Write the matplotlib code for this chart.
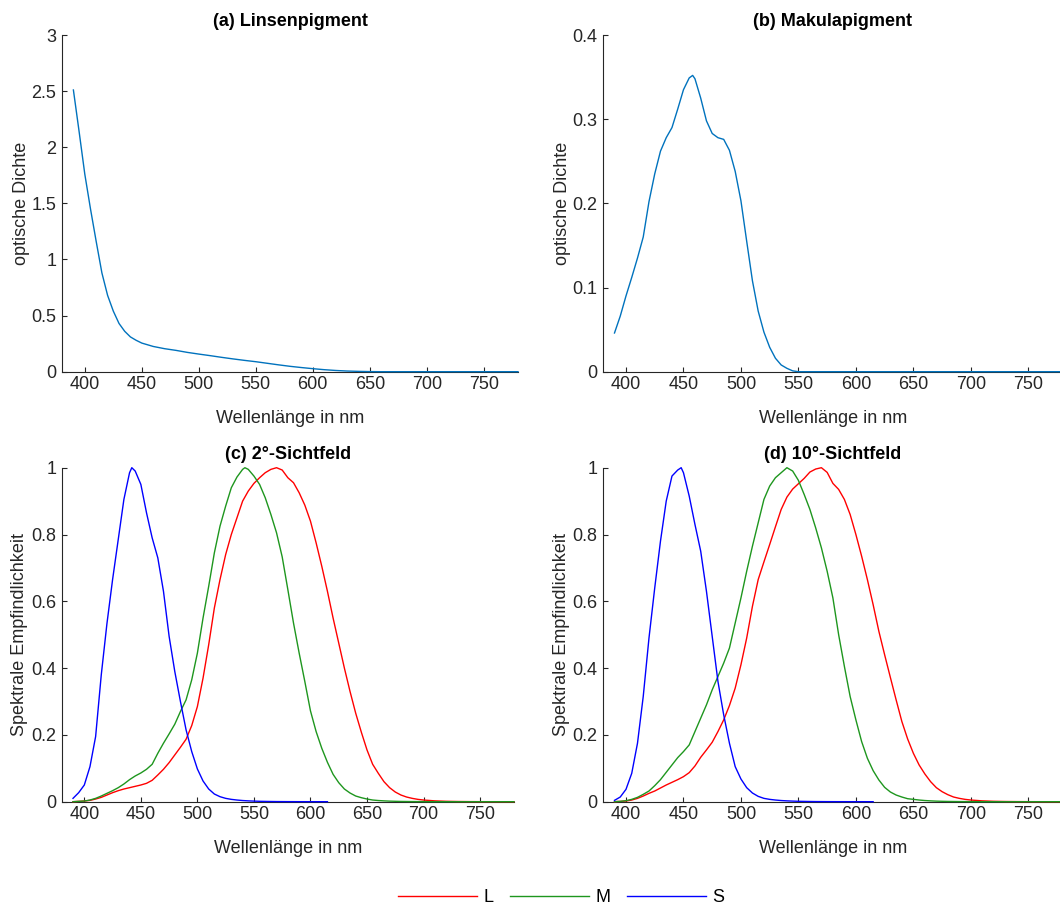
import matplotlib
matplotlib.use("Agg")
import matplotlib.pyplot as plt

plt.rcParams['font.family'] = ['Liberation Sans', 'DejaVu Sans']

# ---------------- data ----------------
# (a) lens pigment optical density
lens_wl = [390, 395, 400, 405, 410, 415, 420, 425, 430, 435, 440, 445, 450,
           460, 470, 480, 490, 500, 510, 520, 530, 540, 550, 560, 570, 580,
           590, 600, 610, 620, 630, 640, 650, 660, 670, 680, 690, 700, 710,
           720, 730, 740, 750, 760, 770, 780]
lens_od = [2.51, 2.14, 1.76, 1.45, 1.16, 0.88, 0.68, 0.54, 0.43, 0.36, 0.31, 0.28, 0.255,
           0.225, 0.205, 0.19, 0.172, 0.157, 0.143, 0.128, 0.114, 0.101, 0.089, 0.075, 0.061, 0.048,
           0.037, 0.027, 0.018, 0.011, 0.006, 0.003, 0.001, 0, 0, 0, 0, 0, 0,
           0, 0, 0, 0, 0, 0, 0]

# (b) macular pigment optical density
mac_wl = [390, 395, 400, 405, 410, 415, 420, 425, 430, 435, 440, 445, 450, 455, 458,
          460, 465, 470, 475, 480, 485, 490, 495, 500, 505, 510, 515, 520, 525,
          530, 535, 540, 545, 550, 560, 570, 580, 590, 600, 610, 620, 630, 640,
          650, 660, 670, 680, 690, 700, 710, 720, 730, 740, 750, 760, 770, 780]
mac_od = [0.046, 0.066, 0.09, 0.112, 0.135, 0.16, 0.202, 0.235, 0.262, 0.278, 0.29, 0.312, 0.335, 0.349, 0.352,
          0.348, 0.325, 0.298, 0.283, 0.278, 0.276, 0.263, 0.238, 0.203, 0.155, 0.108, 0.072, 0.047, 0.029,
          0.016, 0.008, 0.004, 0.001, 0, 0, 0, 0, 0, 0, 0, 0, 0, 0,
          0, 0, 0, 0, 0, 0, 0, 0, 0, 0, 0, 0, 0, 0]

# (c) 2 degree field
L2_wl = [390, 395, 400, 405, 410, 415, 420, 425, 430, 435,
         440, 445, 450, 455, 460, 465, 470, 475, 480, 485,
         490, 495, 500, 505, 510, 515, 520, 525, 530, 535,
         540, 545, 550, 555, 560, 565, 570, 575, 580, 585,
         590, 595, 600, 605, 610, 615, 620, 625, 630, 635,
         640, 645, 650, 655, 660, 665, 670, 675, 680, 685,
         690, 695, 700, 710, 720, 730, 740, 750, 760, 770, 780]
L2 = [0.000, 0.001, 0.002, 0.004, 0.008, 0.013, 0.020, 0.027, 0.033, 0.038,
      0.042, 0.046, 0.050, 0.055, 0.064, 0.080, 0.097, 0.117, 0.140, 0.163,
      0.187, 0.228, 0.285, 0.370, 0.470, 0.580, 0.665, 0.740, 0.800, 0.850,
      0.900, 0.930, 0.953, 0.970, 0.985, 0.995, 1.000, 0.993, 0.970, 0.955,
      0.925, 0.888, 0.840, 0.775, 0.705, 0.630, 0.550, 0.475, 0.400, 0.330,
      0.265, 0.208, 0.155, 0.112, 0.085, 0.060, 0.042, 0.029, 0.020, 0.014,
      0.010, 0.007, 0.005, 0.0025, 0.0012, 0.0006, 0.0003, 0.00015, 0.00008, 0.00004, 0.00002]
M2_wl = [390, 395, 400, 405, 410, 415, 420, 425, 430, 435,
         440, 445, 450, 455, 460, 465, 470, 475, 480, 485,
         490, 495, 500, 505, 510, 515, 520, 525, 530, 535,
         540, 542, 545, 550, 555, 560, 565, 570, 575, 580, 585,
         590, 595, 600, 605, 610, 615, 620, 625, 630, 635,
         640, 645, 650, 655, 660, 665, 670, 675, 680, 685,
         690, 695, 700, 710, 720, 730, 740, 750, 760, 770, 780]
M2 = [0.000, 0.001, 0.002, 0.005, 0.010, 0.017, 0.025, 0.033, 0.042, 0.053,
      0.066, 0.077, 0.086, 0.097, 0.112, 0.145, 0.175, 0.203, 0.232, 0.270,
      0.305, 0.365, 0.445, 0.550, 0.645, 0.745, 0.825, 0.885, 0.940, 0.972,
      0.995, 1.000, 0.995, 0.975, 0.950, 0.910, 0.860, 0.805, 0.733, 0.635, 0.535,
      0.445, 0.360, 0.272, 0.210, 0.160, 0.118, 0.082, 0.057, 0.038, 0.026,
      0.017, 0.012, 0.008, 0.005, 0.0035, 0.0025, 0.0017, 0.0012, 0.0008, 0.0006,
      0.0004, 0.0003, 0.0002, 0.0001, 0.00005, 0.00003, 0.00002, 0.00001, 0.0, 0.0, 0.0]
S2_wl = [390, 395, 400, 405, 410, 415, 420, 425, 430, 435,
         440, 442, 445, 450, 455, 460, 465, 470, 475, 480, 485,
         490, 495, 500, 505, 510, 515, 520, 525, 530, 535,
         540, 545, 550, 555, 560, 565, 570, 575, 580, 585,
         590, 595, 600, 605, 610, 615]
S2 = [0.010, 0.027, 0.050, 0.105, 0.195, 0.380, 0.533, 0.665, 0.785, 0.905,
      0.985, 1.000, 0.990, 0.950, 0.865, 0.790, 0.730, 0.630, 0.495, 0.390, 0.300,
      0.215, 0.150, 0.098, 0.062, 0.038, 0.023, 0.015, 0.010, 0.007, 0.005,
      0.0035, 0.0025, 0.0018, 0.0012, 0.0009, 0.0006, 0.0004, 0.0003, 0.0002, 0.00015,
      0.0001, 0.00008, 0.00005, 0.00004, 0.00003, 0.00002]

# (d) 10 degree field
L10_wl = L2_wl
L10 = [0.000, 0.001, 0.002, 0.005, 0.010, 0.017, 0.025, 0.032, 0.041, 0.050,
       0.058, 0.066, 0.075, 0.087, 0.107, 0.133, 0.155, 0.178, 0.210, 0.245,
       0.288, 0.340, 0.410, 0.490, 0.585, 0.665, 0.718, 0.770, 0.823, 0.875,
       0.912, 0.936, 0.952, 0.968, 0.987, 0.996, 1.000, 0.986, 0.953, 0.935,
       0.905, 0.860, 0.800, 0.735, 0.665, 0.590, 0.510, 0.440, 0.372, 0.305,
       0.240, 0.188, 0.145, 0.110, 0.083, 0.060, 0.042, 0.030, 0.021, 0.014,
       0.010, 0.007, 0.005, 0.0025, 0.0012, 0.0006, 0.0003, 0.00015, 0.00008, 0.00004, 0.00002]
M10_wl = L2_wl
M10 = [0.000, 0.001, 0.003, 0.007, 0.013, 0.022, 0.032, 0.048, 0.066, 0.088,
       0.110, 0.132, 0.150, 0.170, 0.210, 0.250, 0.290, 0.335, 0.375, 0.415,
       0.460, 0.535, 0.610, 0.690, 0.765, 0.835, 0.905, 0.945, 0.970, 0.985,
       1.000, 0.990, 0.962, 0.920, 0.875, 0.820, 0.760, 0.690, 0.610, 0.500,
       0.405, 0.315, 0.245, 0.180, 0.130, 0.093, 0.065, 0.043, 0.029, 0.020,
       0.014, 0.009, 0.007, 0.005, 0.0035, 0.0025, 0.0017, 0.0012, 0.0008, 0.0006,
       0.0004, 0.0003, 0.0002, 0.0001, 0.00005, 0.00003, 0.00002, 0.00001, 0.0, 0.0, 0.0]
S10_wl = [390, 395, 400, 405, 410, 415, 420, 425, 430, 435,
          440, 445, 448, 450, 455, 460, 465, 470, 475, 480, 485,
          490, 495, 500, 505, 510, 515, 520, 525, 530, 535,
          540, 545, 550, 555, 560, 565, 570, 575, 580, 585,
          590, 595, 600, 605, 610, 615]
S10 = [0.004, 0.014, 0.037, 0.085, 0.175, 0.315, 0.490, 0.640, 0.780, 0.900,
       0.975, 0.993, 1.000, 0.985, 0.915, 0.830, 0.750, 0.630, 0.495, 0.360, 0.260,
       0.175, 0.105, 0.068, 0.042, 0.026, 0.016, 0.010, 0.007, 0.005, 0.0035,
       0.0025, 0.0018, 0.0012, 0.0009, 0.0006, 0.0004, 0.0003, 0.0002, 0.00015, 0.0001,
       0.0001, 0.00007, 0.00005, 0.00004, 0.00003, 0.00002]

titles = ['(a) Linsenpigment', '(b) Makulapigment', '(c) 2°-Sichtfeld', '(d) 10°-Sichtfeld']
x_ticks = [400, 450, 500, 550, 600, 650, 700, 750]
x_ticklabels = ['400', '450', '500', '550', '600', '650', '700', '750']
ya_ticks = [0, 0.5, 1, 1.5, 2, 2.5, 3]
ya_ticklabels = ['0', '0.5', '1', '1.5', '2', '2.5', '3']
yb_ticks = [0, 0.1, 0.2, 0.3, 0.4]
yb_ticklabels = ['0', '0.1', '0.2', '0.3', '0.4']
yc_ticks = [0, 0.2, 0.4, 0.6, 0.8, 1]
yc_ticklabels = ['0', '0.2', '0.4', '0.6', '0.8', '1']
series_names = ['L', 'M', 'S']
xlabel = 'Wellenlänge in nm'
ylabel_top = 'optische Dichte'
ylabel_bottom = 'Spektrale Empfindlichkeit'

# ---------------- style ----------------
W, H = 1060, 907
fig = plt.figure(figsize=(W / 100, H / 100), dpi=100)
AX = '#262626'
FS = 13
c_mat = '#0072BD'
c_L, c_M, c_S = '#FF0000', '#1E961E', '#0000FF'

def px_axes(l, r, t, b):
    return fig.add_axes([l / W, 1 - b / H, (r - l) / W, (b - t) / H])

ax_a = px_axes(62.0, 518.0, 35.0, 371.7)
ax_b = px_axes(603.0, 1062.8, 35.0, 371.7)
ax_c = px_axes(61.7, 514.0, 467.7, 801.7)
ax_d = px_axes(603.0, 1062.8, 467.7, 801.7)

def style(ax, title, yt, ytl, ylim, ylab, ylpad):
    ax.set_xlim(380, 780)
    ax.set_ylim(*ylim)
    ax.set_xticks(x_ticks)
    ax.set_xticklabels(x_ticklabels)
    ax.set_yticks(yt)
    ax.set_yticklabels(ytl)
    for s in ['top', 'right']:
        ax.spines[s].set_visible(False)
    for s in ['left', 'bottom']:
        ax.spines[s].set_color(AX)
        ax.spines[s].set_linewidth(0.8)
    ax.tick_params(axis='both', direction='in', length=3.6, width=0.8,
                   color=AX, labelcolor=AX, labelsize=FS)
    ax.tick_params(axis='x', pad=3)
    ax.tick_params(axis='y', pad=4)
    ax.set_xlabel(xlabel, fontsize=FS, color=AX, labelpad=12)
    ax.set_ylabel(ylab, fontsize=FS, color=AX, labelpad=ylpad)
    ax.set_title(title, fontsize=FS, fontweight='bold', color='black', pad=6.5)

style(ax_a, titles[0], ya_ticks, ya_ticklabels, (0, 3), ylabel_top, 1.0)
style(ax_b, titles[1], yb_ticks, yb_ticklabels, (0, 0.4), ylabel_top, 1.0)
style(ax_c, titles[2], yc_ticks, yc_ticklabels, (0, 1), ylabel_bottom, 2.0)
style(ax_d, titles[3], yc_ticks, yc_ticklabels, (0, 1), ylabel_bottom, 2.0)

lw = 1.0
ax_a.plot(lens_wl, lens_od, color=c_mat, lw=lw, zorder=3, clip_on=False)
ax_b.plot(mac_wl, mac_od, color=c_mat, lw=lw, zorder=3, clip_on=False)

handles = []
for ax, series in [(ax_c, [(L2_wl, L2), (M2_wl, M2), (S2_wl, S2)]),
                   (ax_d, [(L10_wl, L10), (M10_wl, M10), (S10_wl, S10)])]:
    hs = []
    for (wl, vals), col in zip(series, [c_L, c_M, c_S]):
        h, = ax.plot(wl, vals, color=col, lw=lw, zorder=3, clip_on=False)
        hs.append(h)
    if not handles:
        handles = hs

fig.legend(handles, series_names, loc='center', bbox_to_anchor=(561 / W, 1 - 898 / H),
           ncol=3, frameon=False, fontsize=FS, handlelength=4.4,
           handletextpad=0.35, columnspacing=0.9)

fig.savefig('out.png', dpi=100)
